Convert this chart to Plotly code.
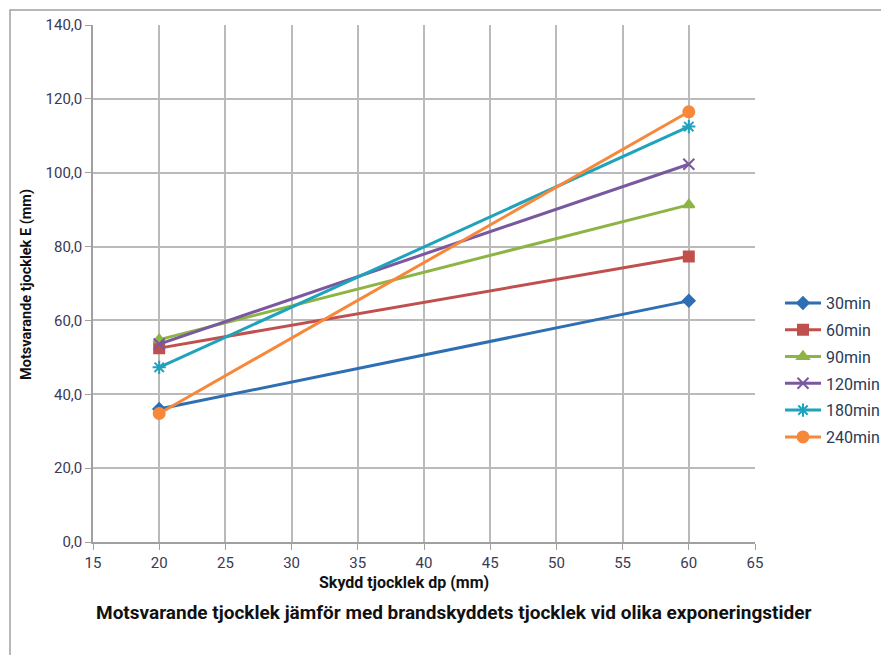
import plotly.graph_objects as go

x_vals = [20, 60]
series_names = ["30min", "60min", "90min", "120min", "180min", "240min"]
s30 = [36.0, 65.3]
s60 = [52.5, 77.3]
s90 = [54.8, 91.3]
s120 = [53.6, 102.3]
s180 = [47.3, 112.5]
s240 = [34.8, 116.5]
y_tickvals = [0, 20, 40, 60, 80, 100, 120, 140]
y_ticktext = ["0,0", "20,0", "40,0", "60,0", "80,0", "100,0", "120,0", "140,0"]
x_tickvals = [15, 20, 25, 30, 35, 40, 45, 50, 55, 60, 65]

colors = ["#2e6fb4", "#c0504d", "#8db444", "#7a58a0", "#1fa3bd", "#f7883a"]
symbols = ["diamond", "square", "triangle-up", "x-thin-open", "asterisk-open", "circle"]
sizes = [9, 10, 10, 11, 11, 11]

W, H = 881, 655
L, R, T, B = 93, 126, 25, 113
pw, ph = W - L - R, H - T - B


def px(xp):
    return (xp - L) / pw


def py(yp):
    return (H - B - yp) / ph


fig = go.Figure()
for i, (name, ys, c, sym, sz) in enumerate(zip(series_names, [s30, s60, s90, s120, s180, s240], colors, symbols, sizes)):
    fig.add_trace(go.Scatter(
        x=x_vals, y=ys, name=name, mode="lines+markers", legendgroup=f"g{i}",
        line=dict(color=c, width=3),
        marker=dict(symbol=sym, size=sz, color=c, line=dict(color=c, width=2)),
    ))

fig.update_layout(
    width=W, height=H,
    paper_bgcolor="white", plot_bgcolor="white",
    margin=dict(l=L, r=R, t=T, b=B, autoexpand=False),
    font=dict(family="Roboto, Arial, sans-serif", size=13, color="#3a3a4a"),
    showlegend=True,
    legend=dict(x=px(780), y=py(286), xanchor="left", yanchor="top",
                font=dict(size=16, color="#2b3a55"), tracegroupgap=3,
                itemwidth=36, bgcolor="rgba(0,0,0,0)"),
    annotations=[
        dict(text="<b>Motsvarande tjocklek jämför med brandskyddets tjocklek vid olika exponeringstider</b>",
             x=px(453), y=py(612), xref="paper", yref="paper", showarrow=False,
             xanchor="center", yanchor="middle",
             font=dict(size=19, color="#111", family="Roboto, Arial, sans-serif")),
        dict(text="<b>Skydd tjocklek dp (mm)</b>",
             x=px(404), y=py(583), xref="paper", yref="paper", showarrow=False,
             xanchor="center", yanchor="middle",
             font=dict(size=16, color="#111", family="Roboto, Arial, sans-serif")),
        dict(text="<b>Motsvarande tjocklek E (mm)</b>", textangle=-90,
             x=px(26), y=py(285), xref="paper", yref="paper", showarrow=False,
             xanchor="center", yanchor="middle",
             font=dict(size=14.5, color="#111", family="Roboto, Arial, sans-serif")),
    ],
    shapes=[dict(type="rect", xref="paper", yref="paper",
                 x0=px(10), x1=px(885), y0=py(660), y1=py(10),
                 line=dict(color="#a0a0a0", width=1.5))],
)

fig.update_xaxes(
    range=[15, 65], tickvals=x_tickvals, showgrid=True, gridcolor="#bababa", gridwidth=1.5,
    showline=True, linecolor="#a0a0a0", linewidth=1.5, ticks="outside", tickcolor="#a0a0a0",
    ticklen=6, zeroline=False, tickfont=dict(size=15, color="#3a3a55"), automargin=False,
)
fig.update_yaxes(
    range=[0, 140], tickvals=y_tickvals, ticktext=y_ticktext, showgrid=True, gridcolor="#bababa",
    gridwidth=1.5, showline=True, linecolor="#a0a0a0", linewidth=1.5, ticks="outside",
    tickcolor="#a0a0a0", ticklen=6, zeroline=False, tickfont=dict(size=15, color="#3a3a55"),
    automargin=False,
)

fig.write_html("out.html", config={"displayModeBar": False},
               post_script="document.body.style.margin='0';document.body.style.overflow='hidden';")
